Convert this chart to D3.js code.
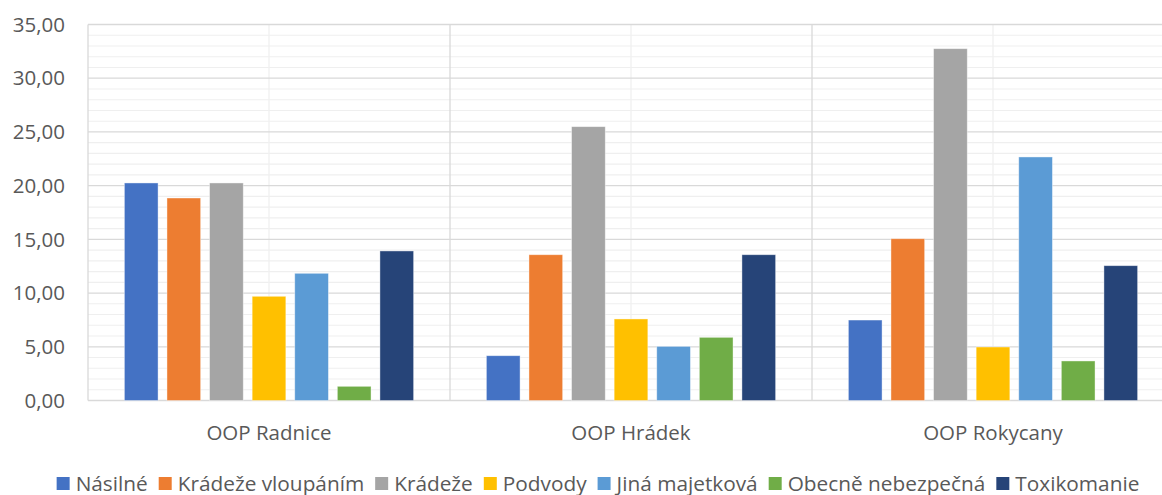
<!DOCTYPE html>
<html>
<head>
<meta charset="utf-8">
<script src="https://cdn.jsdelivr.net/npm/d3@7"></script>
<style>
	body { margin: 0; background: #fff; }
	svg text { font-family: "Open Sans", sans-serif; fill: #595959; }
</style>
</head>
<body>
<div id="chart"></div>
<script>
var groups = ["OOP Radnice", "OOP Hrádek", "OOP Rokycany"];
var seriesNames = ["Násilné", "Krádeže vloupáním", "Krádeže", "Podvody", "Jiná majetková", "Obecně nebezpečná", "Toxikomanie"];
var seriesColors = ["#4472C4", "#ED7D31", "#A5A5A5", "#FFC000", "#5B9BD5", "#70AD47", "#264478"];

// one array per series, values for Radnice, Hrádek, Rokycany
var nasilne    = [20.25, 4.17, 7.49];
var vloupanim  = [18.85, 13.57, 15.06];
var kradeze    = [20.25, 25.49, 32.75];
var podvody    = [9.70, 7.59, 4.98];
var jinaMaj    = [11.84, 5.04, 22.67];
var obecne     = [1.32, 5.88, 3.68];
var toxikomanie = [13.92, 13.57, 12.55];
var seriesValues = [nasilne, vloupanim, kradeze, podvody, jinaMaj, obecne, toxikomanie];

var yTicks = [0, 5, 10, 15, 20, 25, 30, 35];
var yMax = 35;

var W = 1162, H = 495;
var pLeft = 88, pRight = 1174, pTop = 24.5, pBottom = 400.5;

var svg = d3.select("#chart").append("svg")
			.attr("width", W)
			.attr("height", H);

var x0 = d3.scaleBand().domain(groups).range([pLeft, pRight]).padding(0);
var x1 = d3.scaleBand().domain(seriesNames).range([0, x0.bandwidth()])
			.paddingInner(0.209).paddingOuter(0.854);
var y = d3.scaleLinear().domain([0, yMax]).range([pBottom, pTop]);

// minor horizontal gridlines
var minor = d3.range(0, yMax + 1, 1).filter(function(v){ return v % 5 != 0; });
svg.append("g").selectAll("line").data(minor).enter().append("line")
	.attr("x1", pLeft).attr("x2", pRight)
	.attr("y1", function(d){ return y(d); })
	.attr("y2", function(d){ return y(d); })
	.style("stroke", "#EFEFEF").style("stroke-width", 1.1);

// minor vertical gridlines at group centers
svg.append("g").selectAll("line").data(groups).enter().append("line")
	.attr("x1", function(d){ return x0(d) + x0.bandwidth() / 2; })
	.attr("x2", function(d){ return x0(d) + x0.bandwidth() / 2; })
	.attr("y1", pTop).attr("y2", pBottom)
	.style("stroke", "#F0F0F0").style("stroke-width", 1.3);

// major horizontal gridlines
svg.append("g").selectAll("line").data(yTicks).enter().append("line")
	.attr("x1", pLeft).attr("x2", pRight)
	.attr("y1", function(d){ return y(d); })
	.attr("y2", function(d){ return y(d); })
	.style("stroke", "#D9D9D9").style("stroke-width", 1.3);

// major vertical gridlines at group boundaries
var bounds = groups.map(function(g){ return x0(g); });
svg.append("g").selectAll("line").data(bounds).enter().append("line")
	.attr("x1", function(d){ return d; })
	.attr("x2", function(d){ return d; })
	.attr("y1", pTop).attr("y2", pBottom)
	.style("stroke", "#D9D9D9").style("stroke-width", 1.3);

// y axis labels
var fmt = function(v){ return d3.format(".2f")(v).replace(".", ","); };
svg.append("g").selectAll("text").data(yTicks).enter().append("text")
	.attr("x", 65)
	.attr("y", function(d){ return y(d); })
	.attr("dy", "0.35em")
	.attr("text-anchor", "end")
	.style("font-size", "20.5px")
	.text(fmt);

// bars
var gg = svg.append("g").selectAll("g").data(groups).enter().append("g")
	.attr("transform", function(d){ return "translate(" + x0(d) + ",0)"; });

gg.selectAll("rect").data(function(d, gi){
		return seriesNames.map(function(s, si){ return {s: s, v: seriesValues[si][gi], c: seriesColors[si]}; });
	}).enter().append("rect")
	.attr("x", function(d){ return x1(d.s); })
	.attr("width", x1.bandwidth())
	.attr("y", function(d){ return y(d.v); })
	.attr("height", function(d){ return pBottom - y(d.v); })
	.attr("fill", function(d){ return d.c; })
	.style("stroke", "#fff").style("stroke-opacity", 0.5).style("stroke-width", 0.8);

// category labels
svg.append("g").selectAll("text").data(groups).enter().append("text")
	.attr("x", function(d){ return x0(d) + x0.bandwidth() / 2; })
	.attr("y", 440)
	.attr("text-anchor", "middle")
	.style("font-size", "20.5px")
	.text(function(d){ return d; });

// legend
var legend = svg.append("g");
var items = legend.selectAll("g").data(seriesNames).enter().append("g");
items.append("rect")
	.attr("width", 13).attr("height", 13)
	.attr("y", 477)
	.attr("fill", function(d, i){ return seriesColors[i]; });
items.append("text")
	.attr("x", 19)
	.attr("y", 490.5)
	.style("font-size", "20.8px")
	.text(function(d){ return d; });

var pos = 0, offsets = [];
items.each(function(){
	offsets.push(pos);
	pos += 19 + d3.select(this).select("text").node().getComputedTextLength() + 11;
});
var total = pos - 11;
var startX = 598 - total / 2;
items.attr("transform", function(d, i){ return "translate(" + (startX + offsets[i]) + ",0)"; });
</script>
</body>
</html>
